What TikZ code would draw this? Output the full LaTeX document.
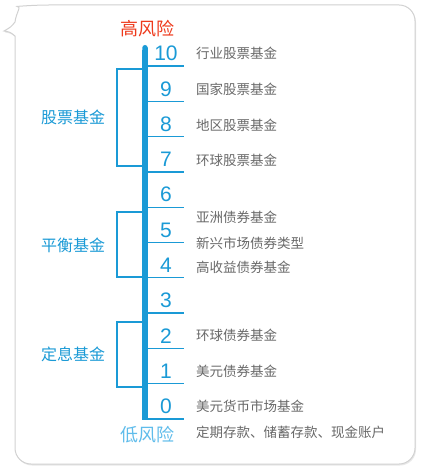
\documentclass[tikz,border=0pt]{standalone}
\usepackage{fontspec}
\setmainfont{Liberation Sans}
\newfontfamily\cjk{Noto Sans CJK SC}
\usetikzlibrary{arrows.meta, positioning, shadows}
\definecolor{riskblue}{RGB}{26,154,214}
\definecolor{risklight}{RGB}{95,188,235}
\definecolor{riskred}{RGB}{238,58,28}
\definecolor{fundgray}{RGB}{105,105,105}
\tikzset{
  bubble/.style = {draw=black!18, line width=1pt, fill=white,
                   drop shadow={opacity=0.18, shadow xshift=1pt, shadow yshift=-1.5pt}},
  bar/.style    = {draw=riskblue, line width=5.5pt, line cap=butt},
  tick/.style   = {draw=riskblue, line width=1.3pt},
  brk/.style    = {draw=riskblue, line width=1.3pt},
  num/.style    = {text=riskblue, inner sep=0pt, font=\fontsize{21}{21}\selectfont},
  fund/.style   = {text=fundgray, inner sep=0pt, anchor=west,
                   font=\cjk\fontsize{13.5}{14}\selectfont},
  grp/.style    = {text=riskblue, inner sep=0pt, font=\cjk\fontsize{16}{16}\selectfont},
}
\begin{document}
\begin{tikzpicture}[x=1pt, y=-1pt]
  \useasboundingbox (0,0) rectangle (421,470);
  % speech bubble
  \path[bubble] (15,36) [rounded corners=16] -- (15,464) -- (415,464) -- (415,5)
    -- (33,5) [sharp corners] .. controls (22,6) and (16,13) .. (15,22)
    .. controls (11,27) .. (4,31) .. controls (10,32) .. (15,36) -- cycle;

  % risk scale
  \node[text=riskred, inner sep=0pt, font=\cjk\fontsize{18}{18}\selectfont] (high) at (147,29) {高风险};
  \node[text=risklight, inner sep=0pt, font=\cjk\fontsize{18}{18}\selectfont] (low) at (147,435) {低风险};
  \coordinate (bartop) at (145,45);
  \coordinate (barbot) at (145,419);
  \draw[bar, {Round Cap[]}-] (bartop) -- (barbot);
  \foreach \i in {0,...,10} {
    \coordinate (t\i) at (142.25,419-35.3*\i);
    \draw[tick] (t\i) -- ++(41.75,0);
    \node[num] (n\i) at (166,406.5-35.3*\i) {\i};
  }

  % funds
  \node[fund] (f10) at (196,53)  {行业股票基金};
  \node[fund] (f9)  at (196,89)  {国家股票基金};
  \node[fund] (f8)  at (196,125) {地区股票基金};
  \node[fund] (f7)  at (196,160) {环球股票基金};
  \node[fund] (f5a) at (196,217) {亚洲债券基金};
  \node[fund] (f5b) at (196,243) {新兴市场债券类型};
  \node[fund] (f4)  at (196,267) {高收益债券基金};
  \node[fund] (f2)  at (196,335) {环球债券基金};
  \node[fund] (f1)  at (196,371) {美元债券基金};
  \node[fund] (f0a) at (196,406) {美元货币市场基金};
  \node[fund] (f0b) at (196,432) {定期存款、储蓄存款、现金账户};

  % groups
  \node[grp] (stock) at (73,117) {股票基金};
  \node[grp] (mixed) at (73,245) {平衡基金};
  \node[grp] (bond)  at (73,354) {定息基金};
  \coordinate (s1) at (143,69);  \coordinate (s2) at (143,166);
  \coordinate (m1) at (143,212); \coordinate (m2) at (143,277);
  \coordinate (b1) at (143,322); \coordinate (b2) at (143,387);
  \draw[brk] (s1) -- ++(-26,0) |- (s2);
  \draw[brk] (m1) -- ++(-26,0) |- (m2);
  \draw[brk] (b1) -- ++(-26,0) |- (b2);
\end{tikzpicture}
\end{document}
